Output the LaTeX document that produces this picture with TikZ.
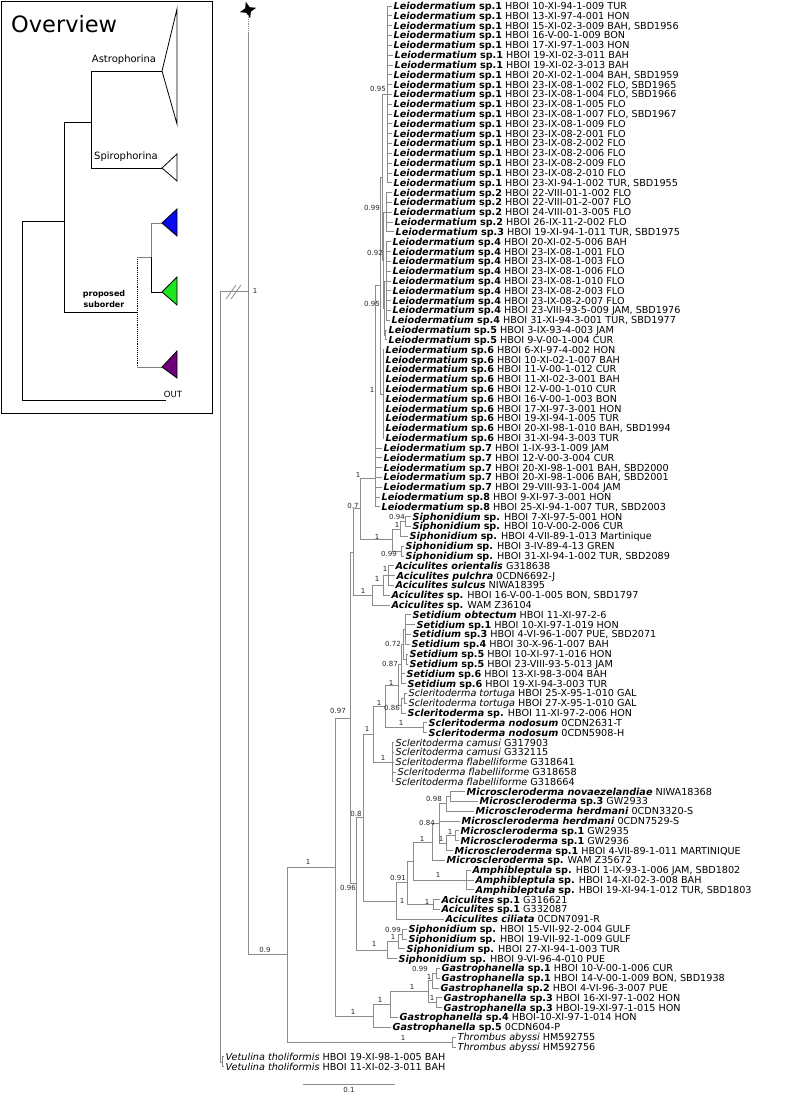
\documentclass[tikz,border=0pt]{standalone}
\usepackage{fontspec}
\setmainfont{DejaVu Sans}
\usetikzlibrary{shapes.geometric}
\definecolor{treegray}{RGB}{140,140,140}
\definecolor{cladeblue}{RGB}{10,10,240}
\definecolor{cladegreen}{RGB}{30,230,30}
\definecolor{cladepurple}{RGB}{112,0,122}
\newcommand{\gsp}[2]{\textbf{\textit{#1}} \textbf{#2}}
\newcommand{\gbi}[2]{\textbf{\textit{#1 #2}}}
\newcommand{\gpl}[2]{\textit{#1 #2}}
\newcommand{\tips}[2]{\foreach \kid in {#2} \draw[br] (#1) |- (l\kid.west);}
\newcommand{\subs}[2]{\foreach \kid in {#2} \draw[br] (#1) |- (\kid);}

\begin{document}
\begin{tikzpicture}[x=1pt,y=-1pt,
  br/.style={draw=treegray, line width=0.8pt},
  leaf/.style={anchor=west, inner xsep=1.5pt, inner ysep=0pt,
    text height=7pt, text depth=0pt, font=\fontsize{9.65}{10}\selectfont},
  sup/.style={inner sep=0pt, font=\fontsize{7}{7}\selectfont, text=black!85},
  ov/.style={draw=black, line width=0.9pt},
  tri/.style={draw=black, line width=0.8pt, line join=miter}]
\useasboundingbox (0,0) rectangle (794,1095);

% Overview inset
\draw[line width=1pt] (1,1) rectangle (212,413);
\node[anchor=west, inner sep=0pt, font=\fontsize{22.5}{24}\selectfont]
  (ovtitle) at (11,24) {Overview};
\coordinate (oRoot) at (22,221);
\coordinate (oIn) at (64,221);
\coordinate (oAS) at (91,122);
\coordinate (oAstro) at (162,71);
\coordinate (oSpiro) at (162,168);
\coordinate (oSub) at (137,312);
\coordinate (oBG) at (151,257);
\coordinate (oBlue) at (162,223);
\coordinate (oGreen) at (162,292);
\coordinate (oPurple) at (162,367);
\coordinate (oOut) at (166,400);
\draw[ov] (oRoot) -- (oIn);
\draw[ov] (oRoot) |- (oOut);
\draw[ov] (oIn) |- (oAS);
\draw[ov] (oIn) |- (oSub);
\draw[ov] (oAS) |- (oAstro);
\draw[ov] (oAS) |- (oSpiro);
\draw[ov, densely dotted] (oBG -| oSub) -- (oPurple -| oSub);
\draw[ov, draw=gray] (oBG -| oSub) -- (oBG);
\draw[ov, draw=gray] (oPurple -| oSub) -- (oPurple);
\draw[ov] (oBG) |- (oGreen);
\draw[ov, draw=gray] (oBG) |- (oBlue);
\draw[tri, fill=white] (oAstro) -- ++(15,-62) -- ++(0,115) -- cycle;
\draw[tri, fill=white] (oSpiro) -- ++(15,-14) -- ++(0,27) -- cycle;
\draw[tri, fill=cladeblue] (oBlue) -- ++(15,-14) -- ++(0,27) -- cycle;
\draw[tri, fill=cladegreen] (oGreen) -- ++(15,-15) -- ++(0,28) -- cycle;
\draw[tri, fill=cladepurple] (oPurple) -- ++(15,-16) -- ++(0,27) -- cycle;
\node[font=\fontsize{10}{10}\selectfont] (oAstroLab) at (124,60) {Astrophorina};
\node[font=\fontsize{10}{10}\selectfont] (oSpiroLab) at (126,157) {Spirophorina};
\node[font=\bfseries\fontsize{8}{11}\selectfont, align=center] (oSubLab)
  at (104,299) {proposed\\suborder};
\node[font=\fontsize{8.5}{9}\selectfont] (oOutLab) at (173,394) {OUT};

% Leaves
\foreach \i/\tx/\lab in {
  1/392/{\gsp{Leiodermatium}{sp.1} HBOI 10-XI-94-1-009 TUR},
  2/392/{\gsp{Leiodermatium}{sp.1} HBOI 13-XI-97-4-001 HON},
  3/392/{\gsp{Leiodermatium}{sp.1} HBOI 15-XI-02-3-009 BAH, SBD1956},
  4/392/{\gsp{Leiodermatium}{sp.1} HBOI 16-V-00-1-009 BON},
  5/392/{\gsp{Leiodermatium}{sp.1} HBOI 17-XI-97-1-003 HON},
  6/393/{\gsp{Leiodermatium}{sp.1} HBOI 19-XI-02-3-011 BAH},
  7/393/{\gsp{Leiodermatium}{sp.1} HBOI 19-XI-02-3-013 BAH},
  8/392/{\gsp{Leiodermatium}{sp.1} HBOI 20-XI-02-1-004 BAH, SBD1959},
  9/392/{\gsp{Leiodermatium}{sp.1} HBOI 23-IX-08-1-002 FLO, SBD1965},
  10/392/{\gsp{Leiodermatium}{sp.1} HBOI 23-IX-08-1-004 FLO, SBD1966},
  11/392/{\gsp{Leiodermatium}{sp.1} HBOI 23-IX-08-1-005 FLO},
  12/392/{\gsp{Leiodermatium}{sp.1} HBOI 23-IX-08-1-007 FLO, SBD1967},
  13/392/{\gsp{Leiodermatium}{sp.1} HBOI 23-IX-08-1-009 FLO},
  14/392/{\gsp{Leiodermatium}{sp.1} HBOI 23-IX-08-2-001 FLO},
  15/392/{\gsp{Leiodermatium}{sp.1} HBOI 23-IX-08-2-002 FLO},
  16/392/{\gsp{Leiodermatium}{sp.1} HBOI 23-IX-08-2-006 FLO},
  17/392/{\gsp{Leiodermatium}{sp.1} HBOI 23-IX-08-2-009 FLO},
  18/392/{\gsp{Leiodermatium}{sp.1} HBOI 23-IX-08-2-010 FLO},
  19/392/{\gsp{Leiodermatium}{sp.1} HBOI 23-XI-94-1-002 TUR, SBD1955},
  20/392/{\gsp{Leiodermatium}{sp.2} HBOI 22-VIII-01-1-002 FLO},
  21/392/{\gsp{Leiodermatium}{sp.2} HBOI 22-VIII-01-2-007 FLO},
  22/392/{\gsp{Leiodermatium}{sp.2} HBOI 24-VIII-01-3-005 FLO},
  23/393/{\gsp{Leiodermatium}{sp.2} HBOI 26-IX-11-2-002 FLO},
  24/394/{\gsp{Leiodermatium}{sp.3} HBOI 19-XI-94-1-011 TUR, SBD1975},
  25/391/{\gsp{Leiodermatium}{sp.4} HBOI 20-XI-02-5-006 BAH},
  26/391/{\gsp{Leiodermatium}{sp.4} HBOI 23-IX-08-1-001 FLO},
  27/391/{\gsp{Leiodermatium}{sp.4} HBOI 23-IX-08-1-003 FLO},
  28/391/{\gsp{Leiodermatium}{sp.4} HBOI 23-IX-08-1-006 FLO},
  29/391/{\gsp{Leiodermatium}{sp.4} HBOI 23-IX-08-1-010 FLO},
  30/391/{\gsp{Leiodermatium}{sp.4} HBOI 23-IX-08-2-003 FLO},
  31/391/{\gsp{Leiodermatium}{sp.4} HBOI 23-IX-08-2-007 FLO},
  32/391/{\gsp{Leiodermatium}{sp.4} HBOI 23-VIII-93-5-009 JAM, SBD1976},
  33/390/{\gsp{Leiodermatium}{sp.4} HBOI 31-XI-94-3-001 TUR, SBD1977},
  34/387/{\gsp{Leiodermatium}{sp.5} HBOI 3-IX-93-4-003 JAM},
  35/387/{\gsp{Leiodermatium}{sp.5} HBOI 9-V-00-1-004 CUR},
  36/384/{\gsp{Leiodermatium}{sp.6} HBOI 6-XI-97-4-002 HON},
  37/384/{\gsp{Leiodermatium}{sp.6} HBOI 10-XI-02-1-007 BAH},
  38/384/{\gsp{Leiodermatium}{sp.6} HBOI 11-V-00-1-012 CUR},
  39/384/{\gsp{Leiodermatium}{sp.6} HBOI 11-XI-02-3-001 BAH},
  40/384/{\gsp{Leiodermatium}{sp.6} HBOI 12-V-00-1-010 CUR},
  41/384/{\gsp{Leiodermatium}{sp.6} HBOI 16-V-00-1-003 BON},
  42/384/{\gsp{Leiodermatium}{sp.6} HBOI 17-XI-97-3-001 HON},
  43/384/{\gsp{Leiodermatium}{sp.6} HBOI 19-XI-94-1-005 TUR},
  44/384/{\gsp{Leiodermatium}{sp.6} HBOI 20-XI-98-1-010 BAH, SBD1994},
  45/384/{\gsp{Leiodermatium}{sp.6} HBOI 31-XI-94-3-003 TUR},
  46/382/{\gsp{Leiodermatium}{sp.7} HBOI 1-IX-93-1-009 JAM},
  47/382/{\gsp{Leiodermatium}{sp.7} HBOI 12-V-00-3-004 CUR},
  48/382/{\gsp{Leiodermatium}{sp.7} HBOI 20-XI-98-1-001 BAH, SBD2000},
  49/382/{\gsp{Leiodermatium}{sp.7} HBOI 20-XI-98-1-006 BAH, SBD2001},
  50/382/{\gsp{Leiodermatium}{sp.7} HBOI 29-VIII-93-1-004 JAM},
  51/380/{\gsp{Leiodermatium}{sp.8} HBOI 9-XI-97-3-001 HON},
  52/380/{\gsp{Leiodermatium}{sp.8} HBOI 25-XI-94-1-007 TUR, SBD2003},
  53/411/{\gsp{Siphonidium}{sp.} HBOI 7-XI-97-5-001 HON},
  54/411/{\gsp{Siphonidium}{sp.} HBOI 10-V-00-2-006 CUR},
  55/408/{\gsp{Siphonidium}{sp.} HBOI 4-VII-89-1-013 Martinique},
  56/404/{\gsp{Siphonidium}{sp.} HBOI 3-IV-89-4-13 GREN},
  57/404/{\gsp{Siphonidium}{sp.} HBOI 31-XI-94-1-002 TUR, SBD2089},
  58/394/{\gbi{Aciculites}{orientalis} G318638},
  59/395/{\gbi{Aciculites}{pulchra} 0CDN6692-J},
  60/394/{\gbi{Aciculites}{sulcus} NIWA18395},
  61/390/{\gsp{Aciculites}{sp.} HBOI 16-V-00-1-005 BON, SBD1797},
  62/390/{\gsp{Aciculites}{sp.} WAM Z36104},
  63/411/{\gbi{Setidium}{obtectum} HBOI 11-XI-97-2-6},
  64/415/{\gsp{Setidium}{sp.1} HBOI 10-XI-97-1-019 HON},
  65/411/{\gsp{Setidium}{sp.3} HBOI 4-VI-96-1-007 PUE, SBD2071},
  66/410/{\gsp{Setidium}{sp.4} HBOI 30-X-96-1-007 BAH},
  67/408/{\gsp{Setidium}{sp.5} HBOI 10-XI-97-1-016 HON},
  68/408/{\gsp{Setidium}{sp.5} HBOI 23-VIII-93-5-013 JAM},
  69/405/{\gsp{Setidium}{sp.6} HBOI 13-XI-98-3-004 BAH},
  70/406/{\gsp{Setidium}{sp.6} HBOI 19-XI-94-3-003 TUR},
  71/407/{\gpl{Scleritoderma}{tortuga} HBOI 25-X-95-1-010 GAL},
  72/407/{\gpl{Scleritoderma}{tortuga} HBOI 27-X-95-1-010 GAL},
  73/406/{\gsp{Scleritoderma}{sp.} HBOI 11-XI-97-2-006 HON},
  74/427/{\gbi{Scleritoderma}{nodosum} 0CDN2631-T},
  75/427/{\gbi{Scleritoderma}{nodosum} 0CDN5908-H},
  76/394/{\gpl{Scleritoderma}{camusi} G317903},
  77/394/{\gpl{Scleritoderma}{camusi} G332115},
  78/394/{\gpl{Scleritoderma}{flabelliforme} G318641},
  79/396/{\gpl{Scleritoderma}{flabelliforme} G318658},
  80/394/{\gpl{Scleritoderma}{flabelliforme} G318664},
  81/465/{\gbi{Microscleroderma}{novaezelandiae} NIWA18368},
  82/478/{\gsp{Microscleroderma}{sp.3} GW2933},
  83/474/{\gbi{Microscleroderma}{herdmani} 0CDN3320-S},
  84/460/{\gbi{Microscleroderma}{herdmani} 0CDN7529-S},
  85/459/{\gsp{Microscleroderma}{sp.1} GW2935},
  86/459/{\gsp{Microscleroderma}{sp.1} GW2936},
  87/453/{\gsp{Microscleroderma}{sp.1} HBOI 4-VII-89-1-011 MARTINIQUE},
  88/445/{\gsp{Microscleroderma}{sp.} WAM Z35672},
  89/471/{\gsp{Amphibleptula}{sp.} HBOI 1-IX-93-1-006 JAM, SBD1802},
  90/474/{\gsp{Amphibleptula}{sp.} HBOI 14-XI-02-3-008 BAH},
  91/474/{\gsp{Amphibleptula}{sp.} HBOI 19-XI-94-1-012 TUR, SBD1803},
  92/440/{\gsp{Aciculites}{sp.1} G316621},
  93/440/{\gsp{Aciculites}{sp.1} G332087},
  94/444/{\gbi{Aciculites}{ciliata} 0CDN7091-R},
  95/407/{\gsp{Siphonidium}{sp.} HBOI 15-VII-92-2-004 GULF},
  96/407/{\gsp{Siphonidium}{sp.} HBOI 19-VII-92-1-009 GULF},
  97/405/{\gsp{Siphonidium}{sp.} HBOI 27-XI-94-1-003 TUR},
  98/397/{\gsp{Siphonidium}{sp.} HBOI 9-VI-96-4-010 PUE},
  99/440/{\gsp{Gastrophanella}{sp.1} HBOI 10-V-00-1-006 CUR},
  100/440/{\gsp{Gastrophanella}{sp.1} HBOI 14-V-00-1-009 BON, SBD1938},
  101/439/{\gsp{Gastrophanella}{sp.2} HBOI 4-VI-96-3-007 PUE},
  102/442/{\gsp{Gastrophanella}{sp.3} HBOI 16-XI-97-1-002 HON},
  103/442/{\gsp{Gastrophanella}{sp.3} HBOI-19-XI-97-1-015 HON},
  104/398/{\gsp{Gastrophanella}{sp.4} HBOI-10-XI-97-1-014 HON},
  105/391/{\gsp{Gastrophanella}{sp.5} 0CDN604-P},
  106/456/{\gpl{Thrombus}{abyssi} HM592755},
  107/456/{\gpl{Thrombus}{abyssi} HM592756},
  108/224/{\gpl{Vetulina}{tholiformis} HBOI 19-XI-98-1-005 BAH},
  109/224/{\gpl{Vetulina}{tholiformis} HBOI 11-XI-02-3-011 BAH}
}{
  \pgfmathsetmacro\yy{6+(\i-1)*9.82}
  \node[leaf] (l\i) at (\tx,\yy) {\lab};
}

% Internal nodes: Leiodermatium
\coordinate (nLa) at (387,94.4);
\coordinate (nLb) at (386,212.2);
\coordinate (nLc) at (386,281);
\coordinate (nLd) at (385,335.6);
\coordinate (nLcd) at (384,308.3);
\coordinate (nLbcd) at (383,260.2);
\coordinate (nLabcd) at (382,177.3);
\coordinate (nLe) at (383,394);
\coordinate (nLae) at (380,285.6);
\coordinate (nLeio) at (375,478);
\tips{nLa}{1,...,19}
\tips{nLb}{20,...,24}
\tips{nLc}{25,...,33}
\tips{nLd}{34,35}
\subs{nLcd}{nLc,nLd}
\subs{nLbcd}{nLb,nLcd}
\subs{nLabcd}{nLa,nLbcd}
\tips{nLe}{36,...,45}
\subs{nLae}{nLabcd,nLe}
\subs{nLeio}{nLae}
\tips{nLeio}{46,...,52}

% Siphonidium, Aciculites
\coordinate (nSa) at (392,539);
\coordinate (nSb) at (400,528.9);
\coordinate (nSd) at (405,521.5);
\coordinate (nSc) at (401,551);
\coordinate (nP7) at (360,508.5);
\coordinate (nAa) at (372,595.4);
\coordinate (nAb) at (383,585.6);
\coordinate (nAc) at (388,575.8);
\coordinate (nP1) at (353,552);
\tips{nSd}{53,54}
\subs{nSb}{nSd}
\tips{nSb}{55}
\tips{nSc}{56,57}
\subs{nSa}{nSb,nSc}
\subs{nP7}{nLeio,nSa}
\tips{nAc}{58,59,60}
\subs{nAb}{nAc}
\tips{nAb}{61}
\subs{nAa}{nAb}
\tips{nAa}{62}
\subs{nP1}{nP7,nAa}

% Setidium, Scleritoderma
\coordinate (nSe4) at (405,629.6);
\coordinate (nSe5) at (406,659);
\coordinate (nSe3) at (403,644.3);
\coordinate (nSe2) at (401,664);
\coordinate (nTp) at (404,698.4);
\coordinate (nTs) at (401,705.8);
\coordinate (nT3) at (398,684.9);
\coordinate (nNp) at (423,727.7);
\coordinate (nT1) at (385,706.3);
\coordinate (nT2) at (392,762.1);
\coordinate (nT) at (373,734.2);
\tips{nSe4}{63,...,66}
\tips{nSe5}{67,68}
\subs{nSe3}{nSe4,nSe5}
\subs{nSe2}{nSe3}
\tips{nSe2}{69,70}
\tips{nTp}{71,72}
\subs{nTs}{nTp}
\tips{nTs}{73}
\subs{nT3}{nSe2,nTs}
\tips{nNp}{74,75}
\subs{nT1}{nT3,nNp}
\tips{nT2}{76,...,80}
\subs{nT}{nT1,nT2}

% Microscleroderma, Amphibleptula, Aciculites
\coordinate (nMi4) at (450,796.5);
\coordinate (nMi2) at (446,803.8);
\coordinate (nMi5) at (455,835.8);
\coordinate (nMi3) at (446,843.2);
\coordinate (nMi1) at (439,823.5);
\coordinate (nMi0) at (432,841.9);
\coordinate (nAm) at (466,880);
\coordinate (nMA) at (413,861);
\coordinate (nAS) at (433,904.5);
\coordinate (nAC) at (407,882.8);
\coordinate (nM0) at (396,901);
\coordinate (nR) at (363,817.6);
\tips{nMi4}{81,82}
\subs{nMi2}{nMi4}
\tips{nMi2}{83}
\tips{nMi5}{85,86}
\subs{nMi3}{nMi5}
\tips{nMi3}{87}
\subs{nMi1}{nMi2,nMi3}
\tips{nMi1}{84}
\subs{nMi0}{nMi1}
\tips{nMi0}{88}
\tips{nAm}{89,90,91}
\subs{nMA}{nMi0,nAm}
\tips{nAS}{92,93}
\subs{nAC}{nMA,nAS}
\subs{nM0}{nAC}
\tips{nM0}{94}
\subs{nR}{nT,nM0}

% lower Siphonidium
\coordinate (nS7) at (402,934);
\coordinate (nS6) at (398,941.4);
\coordinate (nS5) at (387,950);
\coordinate (nQ) at (356,883.8);
\coordinate (nD) at (350,717.9);
\tips{nS7}{95,96}
\subs{nS6}{nS7}
\tips{nS6}{97}
\subs{nS5}{nS6}
\tips{nS5}{98}
\subs{nQ}{nR,nS5}
\subs{nD}{nP1,nQ}

% Gastrophanella, Thrombus, base
\coordinate (nG5) at (436,973.4);
\coordinate (nG3) at (432,980.8);
\coordinate (nG4) at (436,1002.8);
\coordinate (nG2) at (428,991.8);
\coordinate (nG1) at (390,1004.6);
\coordinate (nE) at (373,1016);
\coordinate (nC) at (335,867);
\coordinate (nTh) at (452,1042.1);
\coordinate (nB) at (287,954.5);
\coordinate (nA) at (248,291);
\coordinate (nStem) at (248,33);
\coordinate (nRoot) at (220,291);
\coordinate (nV) at (222,1062);
\tips{nG5}{99,100}
\subs{nG3}{nG5}
\tips{nG3}{101}
\tips{nG4}{102,103}
\subs{nG2}{nG3,nG4}
\subs{nG1}{nG2}
\tips{nG1}{104}
\subs{nE}{nG1}
\tips{nE}{105}
\subs{nC}{nD,nE}
\tips{nTh}{106,107}
\subs{nB}{nC,nTh}
\node[star, star points=4, star point ratio=2.6, minimum size=17pt,
      inner sep=0pt, fill=black, rotate=15] (star) at (248,10) {};
\draw[br, densely dotted] (star) -- (nStem);
\draw[br] (nStem) -- (nA);
\subs{nA}{nB}
\draw[br] (nRoot) -- (nA);
\subs{nRoot}{nV}
\tips{nV}{108,109}
\draw[br] ([shift={(6,8)}]nRoot) -- ++(10,-14);
\draw[br] ([shift={(11,8)}]nRoot) -- ++(10,-14);

% support values
\foreach \sx/\sy/\sv [count=\n] in {
  378/89/0.95, 372/208/0.99, 375/253/0.92, 372/304/0.95, 372/390/1,
  358/475/1, 353/506/0.7, 397/517/0.94, 397/525/1, 377/537/1,
  389/554/0.99, 385/569/1, 377/579/1, 363/591/1, 393/644/0.72,
  390/664/0.87, 391/683/1, 379/703/1, 392/708/0.86, 401/723/1,
  367/729/1, 338/711/0.97, 383/758/1, 434/799/0.98, 356/814/0.8,
  427/823/0.84, 450/832/1, 441/839/1, 422/839/1, 308/862/1,
  438/875/1, 398/878/0.91, 348/888/0.96, 402/901/1, 427/902/1,
  393/930/0.99, 393/937/1, 374/944/1, 265/950/0.9, 420/969/0.99,
  429/977/1, 412/987/1, 432/998/1, 380/1000/1, 353/1012/1,
  403/1038/1, 255/291/1}{
  \node[sup] (s\n) at (\sx,\sy) {\sv};
}

% scale bar
\coordinate (sb0) at (303,1084);
\coordinate (sb1) at (395,1084);
\draw[br] (sb0) -- node[sup, below=3pt] (sbLab) {0.1} (sb1);
\end{tikzpicture}
\end{document}
